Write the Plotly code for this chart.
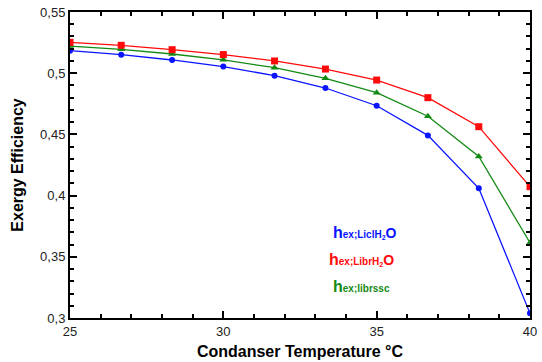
import plotly.graph_objects as go

temps = [25, 26.67, 28.33, 30, 31.67, 33.33, 35, 36.67, 38.33, 40]
licl = [0.5184, 0.5151, 0.5108, 0.5054, 0.4980, 0.4879, 0.4734, 0.4492, 0.4060, 0.3038]
libr = [0.5252, 0.5228, 0.5192, 0.5152, 0.5100, 0.5034, 0.4944, 0.4800, 0.4563, 0.4073]
librssc = [0.5222, 0.5195, 0.5157, 0.5109, 0.5045, 0.4958, 0.4841, 0.4648, 0.4320, 0.3615]

fig = go.Figure()
series = [
    (licl, "#0a14ff", "circle", 6),
    (librssc, "#138a13", "triangle-up", 7),
    (libr, "#ff0a0a", "square", 7),
]
for vals, col, sym, sz in series:
    fig.add_trace(go.Scatter(x=temps, y=vals, mode="lines+markers",
                             line=dict(color=col, width=1.3),
                             marker=dict(color=col, symbol=sym, size=sz),
                             showlegend=False))

def lab(name, col, x, y):
    fig.add_annotation(
        x=x, y=y, xref="x", yref="y", xanchor="left", yanchor="middle",
        showarrow=False,
        text=name, font=dict(color=col, size=10, family="Liberation Sans, Arial"))

lab("<b><span style='font-size:16px'>h</span>ex;LiclH<sub>2</sub><span style='font-size:14px'>O</span></b>", "#0a14ff", 33.5, 0.370)
lab("<b><span style='font-size:16px'>h</span>ex;LibrH<sub>2</sub><span style='font-size:14px'>O</span></b>", "#ff0a0a", 33.37, 0.3475)
lab("<b><span style='font-size:16px'>h</span>ex;librssc</b>", "#138a13", 33.52, 0.326)

axis_common = dict(
    showline=True, linecolor="black", linewidth=2, mirror="allticks",
    ticks="inside", ticklen=7, tickwidth=1.5, tickcolor="black",
    showgrid=False, zeroline=False, automargin=False,
    tickfont=dict(family="Liberation Sans, Arial", size=13, color="#222"),
)
fig.update_xaxes(range=[25, 40], dtick=5, tick0=25,
                 minor=dict(dtick=1, ticks="inside", ticklen=4, tickcolor="black", showgrid=False),
                 title=dict(text="<b>Condanser Temperature °C</b>", standoff=8,
                            font=dict(family="Liberation Sans, Arial", size=16, color="black")),
                 **axis_common)
fig.update_yaxes(range=[0.3, 0.55], dtick=0.05, tick0=0.3,
                 minor=dict(dtick=0.01, ticks="inside", ticklen=4, tickcolor="black", showgrid=False),
                 title=dict(text="<b>Exergy Efficiency</b>", standoff=12,
                            font=dict(family="Liberation Sans, Arial", size=16, color="black")),
                 **axis_common)
fig.update_layout(width=542, height=362, margin=dict(l=70, r=12, t=12, b=44, autoexpand=False),
                  plot_bgcolor="white", paper_bgcolor="white", separators=",.")
fig.write_html("out.html")
